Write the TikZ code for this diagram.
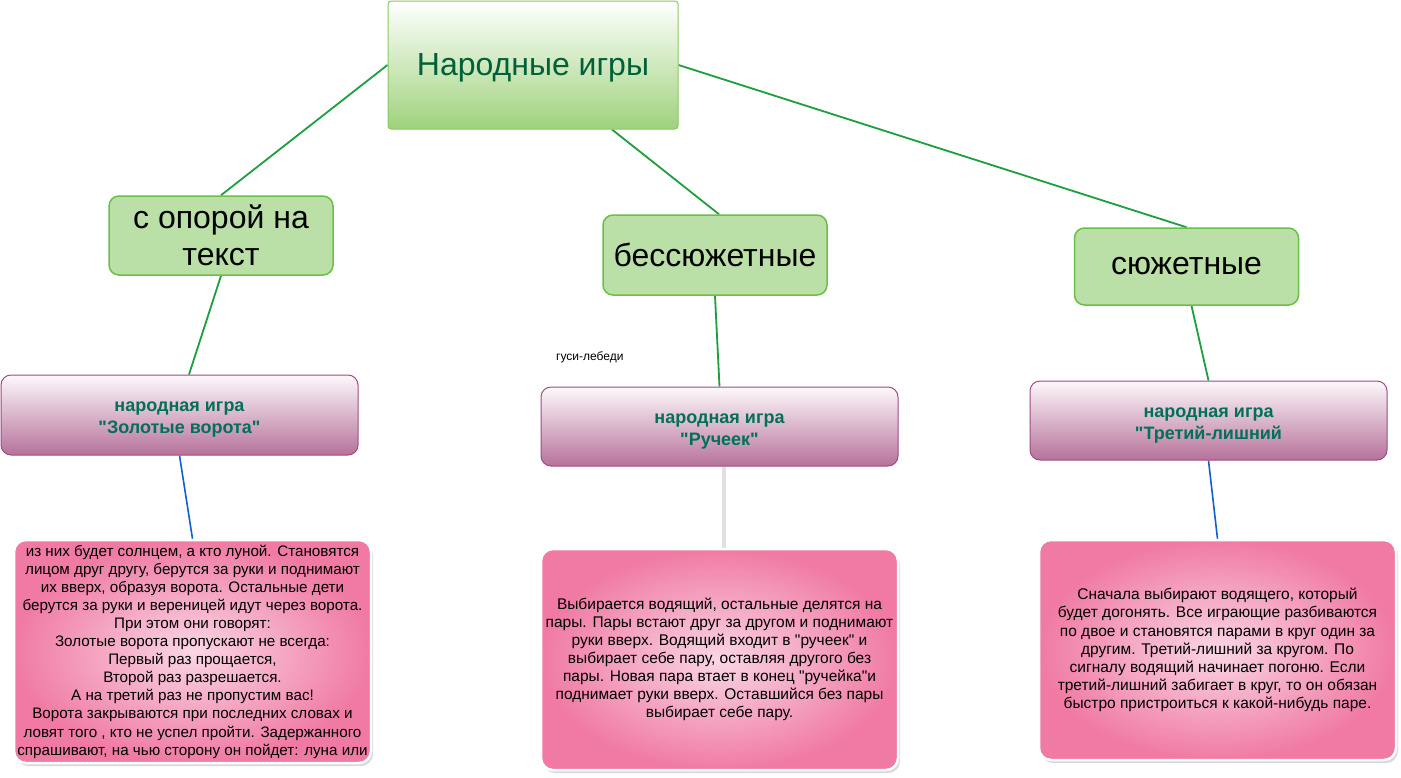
\documentclass[tikz,border=0pt]{standalone}
\usepackage{fontspec}
\setmainfont{Liberation Sans}[Ligatures=TeXOff]
\usetikzlibrary{shadows,backgrounds}
\definecolor{rootbot}{HTML}{9FD27C}
\definecolor{rootbd}{HTML}{8CC860}
\definecolor{roottxt}{HTML}{00603A}
\definecolor{lvlfill}{HTML}{BAE0A7}
\definecolor{lvlbd}{HTML}{6CBF46}
\definecolor{conn}{HTML}{1E9E3E}
\definecolor{purtop}{HTML}{FDF8FB}
\definecolor{purbot}{HTML}{B6729A}
\definecolor{purbd}{HTML}{A04B84}
\definecolor{purtxt}{RGB}{0,112,90}
\definecolor{blueconn}{HTML}{1060D0}
\definecolor{pinkin}{HTML}{FAD6E4}
\definecolor{pinkout}{HTML}{F07AA3}
\tikzset{
  rootbox/.style={draw=rootbd, line width=1pt, top color=white, bottom color=rootbot,
    rounded corners=3pt, minimum width=290pt, minimum height=128pt},
  roottext/.style={text=roottxt, font=\fontsize{32}{38}\selectfont},
  lvlbox/.style={draw=lvlbd, line width=1.5pt, fill=lvlfill, rounded corners=10pt,
    minimum width=224pt, minimum height=79pt, align=center,
    font=\fontsize{32}{37}\selectfont},
  gamebox/.style={draw=purbd, line width=1pt, top color=purtop, bottom color=purbot,
    rounded corners=10pt, minimum width=357pt, minimum height=79pt},
  gametext/.style={align=center, text=purtxt, font=\bfseries\fontsize{18}{22}\selectfont},
  descbox/.style={draw=white, line width=2.5pt, inner color=pinkin, outer color=pinkout,
    rounded corners=12pt, minimum width=357pt, align=center, inner sep=2pt,
    drop shadow={shadow xshift=2pt, shadow yshift=-3pt, fill=black!30},
    font=\fontsize{15.5}{18.1}\selectfont},
  gline/.style={conn, line width=1.8pt},
  bline/.style={blueconn, line width=1.6pt}
}
\begin{document}
\begin{tikzpicture}[x=1pt,y=-1pt]
\useasboundingbox (0,0) rectangle (1401,777);
\node[rootbox] (root) at (533,65) {};
\node[roottext] (roott) at ([yshift=-3pt]root.center) {Народные игры};
\node[lvlbox] (n1) at (221,235.5) {с опорой на\\текст};
\node[lvlbox, minimum height=80pt] (n2) at (715,255) {бессюжетные};
\node[lvlbox, minimum height=77pt] (n3) at (1186.5,266.5) {сюжетные};
\node[gamebox, minimum height=80pt] (p1) at (179.5,415) {};
\node[gametext] (p1t) at ([yshift=-5pt]p1.center) {народная игра\\"Золотые ворота"};
\node[gamebox] (p2) at (719.5,426.5) {};
\node[gametext] (p2t) at ([yshift=-5pt]p2.center) {народная игра\\"Ручеек"};
\node[gamebox] (p3) at (1208.5,420.5) {};
\node[gametext] (p3t) at ([yshift=-5pt]p3.center) {народная игра\\"Третий-лишний};
\node[descbox, minimum height=223pt, font=\fontsize{15.2}{18.1}\selectfont] (k1) at (192.5,651.5) {из них будет солнцем, а кто луной. Становятся\\лицом друг другу, берутся за руки и поднимают\\их вверх, образуя ворота. Остальные дети\\берутся за руки и вереницей идут через ворота.\\При этом они говорят:\\Золотые ворота пропускают не всегда:\\Первый раз прощается,\\Второй раз разрешается.\\А на третий раз не пропустим вас!\\Ворота закрываются при последних словах и\\ловят того , кто не успел пройти. Задержанного\\спрашивают, на чью сторону он пойдет: луна или};
\node[descbox, minimum height=221pt] (k2) at (719.5,659.5) {Выбирается водящий, остальные делятся на\\пары. Пары встают друг за другом и поднимают\\руки вверх. Водящий входит в "ручеек" и\\выбирает себе пару, оставляя другого без\\пары. Новая пара втает в конец "ручейка"и\\поднимает руки вверх. Оставшийся без пары\\выбирает себе пару.};
\node[descbox, minimum height=220pt] (k3) at (1217.5,650) {Сначала выбирают водящего, который\\будет догонять. Все играющие разбиваются\\по двое и становятся парами в круг один за\\другим. Третий-лишний за кругом. По\\сигналу водящий начинает погоню. Если\\третий-лишний забигает в круг, то он обязан\\быстро пристроиться к какой-нибудь паре.};
\node[font=\fontsize{12}{14}\selectfont, anchor=west, inner sep=0pt] (gl) at (556,357) {гуси-лебеди};
\begin{pgfonlayer}{background}
\fill[white] (0,0) rectangle (1401,777);
\draw[gline] (root.west) -- (n1.north);
\draw[gline] ([xshift=79pt]root.south) -- ([xshift=4pt]n2.north);
\draw[gline] (root.east) -- (n3.north);
\draw[gline] (n1.south) -- ([xshift=9.5pt]p1.north);
\draw[gline] (n2.south) -- (p2.north);
\draw[gline] ([xshift=5pt]n3.south) -- (p3.north);
\draw[bline] (p1.south) -- (k1.north);
\draw[bline] (p3.south) -- (k3.north);
\draw[black!12, line width=6pt] ([xshift=3pt]p2.south) -- ([xshift=3pt]k2.north);
\draw[white, line width=2pt] ([xshift=1pt]p2.south) -- ([xshift=1pt]k2.north);
\end{pgfonlayer}
\end{tikzpicture}
\end{document}
